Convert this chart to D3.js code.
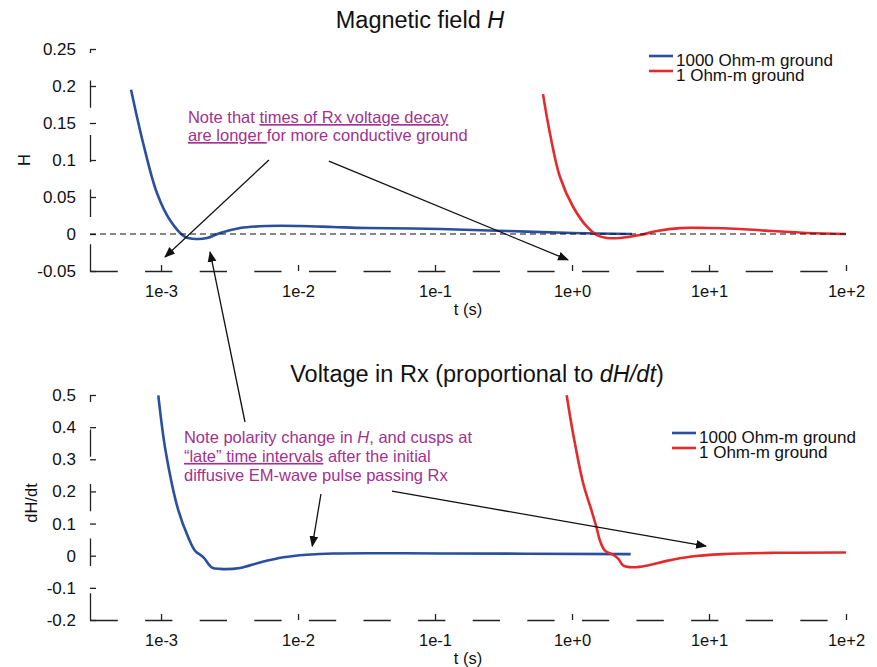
<!DOCTYPE html>
<html>
<head>
<meta charset="utf-8">
<script src="https://cdn.jsdelivr.net/npm/d3@7"></script>
<style>
  body { margin: 0; background: #fff; }
  svg { display: block; font-family: "Liberation Sans", Arial, sans-serif; }
</style>
</head>
<body>
<div id="chart"></div>
<script>
// data (t in seconds)
var tickTimes  = [1e-3, 1e-2, 1e-1, 1e0, 1e1, 1e2],
    tickLabels = ["1e-3", "1e-2", "1e-1", "1e+0", "1e+1", "1e+2"];

var hTicks  = [-0.05, 0, 0.05, 0.1, 0.15, 0.2, 0.25],
    dhTicks = [-0.2, -0.1, 0, 0.1, 0.2, 0.3, 0.4, 0.5];

// Magnetic field H, 1000 Ohm-m ground
var hBlueT = [6.04e-4, 7.4e-4, 9.35e-4, 1.16e-3, 1.5e-3, 1.83e-3, 2.17e-3, 2.7e-3, 3.78e-3,
              5.94e-3, 1.04e-2, 1.8e-2, 3.19e-2, 0.109, 0.336, 1.02, 2.74],
    hBlueV = [0.195, 0.123, 0.055, 0.019, -0.004, -0.0068, -0.0054, 0.0014, 0.0081,
              0.0108, 0.0108, 0.0095, 0.0081, 0.0068, 0.004, 0.0014, 0.0];
// Magnetic field H, 1 Ohm-m ground
var hRedT = [0.614, 0.69, 0.817, 1.02, 1.29, 1.52, 1.8, 2.24, 3.13, 4.17, 6.14, 9.66, 16.8, 29.3, 51.9, 100],
    hRedV = [0.189, 0.136, 0.077, 0.0365, 0.0095, -0.0014, -0.0054, -0.0054, -0.0014, 0.004,
             0.008, 0.0081, 0.0068, 0.004, 0.0014, 0.0];

// dH/dt, 1000 Ohm-m ground
var dBlueT = [9.55e-4, 1.08e-3, 1.34e-3, 1.58e-3, 1.77e-3, 2.04e-3, 2.34e-3, 2.7e-3, 3.78e-3,
              5.28e-3, 7.82e-3, 1.16e-2, 1.81e-2, 0.109, 2.68],
    dBlueV = [0.499, 0.326, 0.14, 0.057, 0.0155, -0.005, -0.036, -0.041, -0.038,
              -0.021, -0.005, 0.003, 0.007, 0.007, 0.005];
// dH/dt, 1 Ohm-m ground
var dRedT = [0.914, 1.02, 1.21, 1.39, 1.51, 1.6, 1.74, 2.0, 2.18, 2.37, 2.81, 3.51, 4.91, 7.26, 12.7, 29.4, 100],
    dRedV = [0.499, 0.378, 0.223, 0.14, 0.088, 0.047, 0.016, 0.003, -0.01, -0.031, -0.036, -0.031,
             -0.016, -0.003, 0.005, 0.009, 0.01];

var seriesNames  = ["1000 Ohm-m ground", "1 Ohm-m ground"],
    seriesColors = ["#2a4f9e", "#e32a2c"];

var width = 877, height = 667,
    tMin = 3.03e-4, tMax = 100;

var svg = d3.select("#chart").append("svg")
    .attr("width", width)
    .attr("height", height);

// arrow head
svg.append("defs").append("marker")
    .attr("id", "arrow")
    .attr("viewBox", "0 0 10 10")
    .attr("refX", 9).attr("refY", 5)
    .attr("markerWidth", 11).attr("markerHeight", 11)
    .attr("markerUnits", "userSpaceOnUse")
    .attr("orient", "auto")
  .append("path")
    .attr("d", "M0,1 L10,5 L0,9 Z")
    .attr("fill", "#111");

var x = d3.scaleLog()
    .domain([tMin, tMax])
    .range([90, 846]);

var yH = d3.scaleLinear().domain([-0.05, 0.25]).range([271, 49]);
var yD = d3.scaleLinear().domain([-0.2, 0.5]).range([620, 395]);

function zip(ts, vs) {
    return ts.map(function(t, i) { return {t: t, v: vs[i]}; });
}

function drawPanel(y, yTicks, yLabel, yLabelPos, titleParts, titleY, series, legendY) {
    var g = svg.append("g");

    // y axis, ticks point inward
    var yAxis = d3.axisLeft(y)
        .tickValues(yTicks)
        .tickFormat(function(d) { return String(+d.toFixed(2)); })
        .tickSizeInner(-6)
        .tickSizeOuter(0)
        .tickPadding(14);
    var ya = g.append("g").attr("transform", "translate(90,0)").call(yAxis);
    ya.select(".domain").attr("stroke", "#222").attr("stroke-width", 1.3)
        .attr("stroke-dasharray", "27.3,27.3");
    ya.selectAll(".tick line").attr("stroke", "#222").attr("stroke-width", 1.3);
    ya.selectAll(".tick text").attr("font-size", 17).attr("fill", "#111")
        .attr("font-family", "Liberation Sans, Arial, sans-serif");

    // x axis, dashed
    var xAxis = d3.axisBottom(x)
        .tickValues(tickTimes)
        .tickFormat(function(d, i) { return tickLabels[i]; })
        .tickSizeInner(-6)
        .tickSizeOuter(0)
        .tickPadding(14);
    var xa = g.append("g").attr("transform", "translate(0," + y.range()[0] + ")").call(xAxis);
    xa.select(".domain").attr("stroke", "#222").attr("stroke-width", 1.3)
        .attr("stroke-dasharray", "27.3,27.3");
    xa.selectAll(".tick line").attr("stroke", "#222").attr("stroke-width", 1.3);
    xa.selectAll(".tick text").attr("font-size", 16.5).attr("fill", "#111")
        .attr("font-family", "Liberation Sans, Arial, sans-serif");

    g.append("text")
        .attr("x", 468).attr("y", y.range()[0] + 44)
        .attr("text-anchor", "middle")
        .attr("font-size", 16.5)
        .attr("fill", "#111")
        .text("t (s)");

    // y label
    var yl = g.append("text")
        .attr("transform", "translate(" + yLabelPos[0] + "," + yLabelPos[1] + ") rotate(-90)")
        .attr("text-anchor", "middle")
        .attr("font-size", 16.5)
        .attr("fill", "#111");
    yLabel.forEach(function(p) {
        yl.append("tspan").attr("font-style", p[1] ? "italic" : null).text(p[0]);
    });

    // title
    var tt = g.append("text")
        .attr("x", titleParts.cx).attr("y", titleY)
        .attr("text-anchor", "middle")
        .attr("font-size", 23.5)
        .attr("fill", "#111");
    titleParts.parts.forEach(function(p) {
        tt.append("tspan").attr("font-style", p[1] ? "italic" : null).text(p[0]);
    });

    // curves
    var line = d3.line()
        .curve(d3.curveCatmullRom.alpha(0.5))
        .x(function(d) { return x(d.t); })
        .y(function(d) { return y(d.v); });

    series.forEach(function(s, i) {
        g.append("path")
            .datum(s)
            .attr("d", line)
            .attr("fill", "none")
            .attr("stroke", seriesColors[i])
            .attr("stroke-width", 2.6)
            .attr("stroke-linejoin", "round");
    });

    // legend
    seriesNames.forEach(function(name, i) {
        var ly = legendY[0] + i * legendY[1];
        g.append("line")
            .attr("x1", legendY[2]).attr("x2", legendY[2] + 24)
            .attr("y1", ly - 10).attr("y2", ly - 10)
            .attr("stroke", seriesColors[i])
            .attr("stroke-width", 2.6);
        g.append("text")
            .attr("x", legendY[2] + 27).attr("y", ly)
            .attr("font-size", 17)
            .attr("fill", "#111")
            .text(name);
    });

    return g;
}

var hPanel = drawPanel(yH, hTicks, [["H", false]], [30, 160],
    {cx: 420, parts: [["Magnetic field ", false], ["H", true]]}, 28,
    [zip(hBlueT, hBlueV), zip(hRedT, hRedV)], [66, 15, 649]);

// zero reference line in the H panel
hPanel.append("line")
    .attr("x1", x(tMin)).attr("x2", x(tMax))
    .attr("y1", yH(0)).attr("y2", yH(0))
    .attr("stroke", "#111")
    .attr("stroke-width", 1.2)
    .attr("stroke-dasharray", "6,4");

drawPanel(yD, dhTicks, [["dH/dt", false]], [37, 503],
    {cx: 477, parts: [["Voltage in Rx (proportional to ", false], ["dH/dt", true], [")", false]]}, 382,
    [zip(dBlueT, dBlueV), zip(dRedT, dRedV)], [443, 15, 672]);

// annotations, positioned in data coordinates
var noteColor = "#a2318f";

function note(t, v, y, lines, gap) {
    var txt = svg.append("text")
        .attr("font-size", 16.5)
        .attr("fill", noteColor);
    lines.forEach(function(parts, i) {
        var first = true;
        parts.forEach(function(p) {
            var ts = txt.append("tspan").text(p[0]);
            if (first) {
                ts.attr("x", x(t)).attr("y", y(v) + i * gap);
                first = false;
            }
            if (p[1] == "u") ts.style("text-decoration", "underline");
            if (p[1] == "i") ts.attr("font-style", "italic");
        });
    });
}

note(1.57e-3, 0.15, yH, [
    [["Note that ", ""], ["times of Rx voltage decay", "u"]],
    [["are longer ", "u"], ["for more conductive ground", ""]]
], 18);

note(1.47e-3, 0.351, yD, [
    [["Note polarity change in ", ""], ["H", "i"], [", and cusps at", ""]],
    [["\u201clate\u201d time intervals", "u"], [" after the initial", ""]],
    [["diffusive EM-wave pulse passing Rx", ""]]
], 19);

// arrows: start (t, v) on one panel scale, end (t, v) on another
var arrowT0 = [6.13e-3, 0.0168, 4.1e-3, 0.0147, 0.0485],
    arrowV0 = [0.1, 0.0986, 0.416, 0.192, 0.201],
    arrowS0 = [yH, yH, yD, yD, yD],
    arrowT1 = [1.07e-3, 0.935, 2.28e-3, 0.0127, 9.5],
    arrowV1 = [-0.031, -0.035, -0.0243, 0.03, 0.03],
    arrowS1 = [yH, yH, yH, yD, yD];

arrowT0.forEach(function(t0, i) {
    svg.append("line")
        .attr("x1", x(t0)).attr("y1", arrowS0[i](arrowV0[i]))
        .attr("x2", x(arrowT1[i])).attr("y2", arrowS1[i](arrowV1[i]))
        .attr("stroke", "#111")
        .attr("stroke-width", 1.3)
        .attr("marker-end", "url(#arrow)");
});
</script>
</body>
</html>
